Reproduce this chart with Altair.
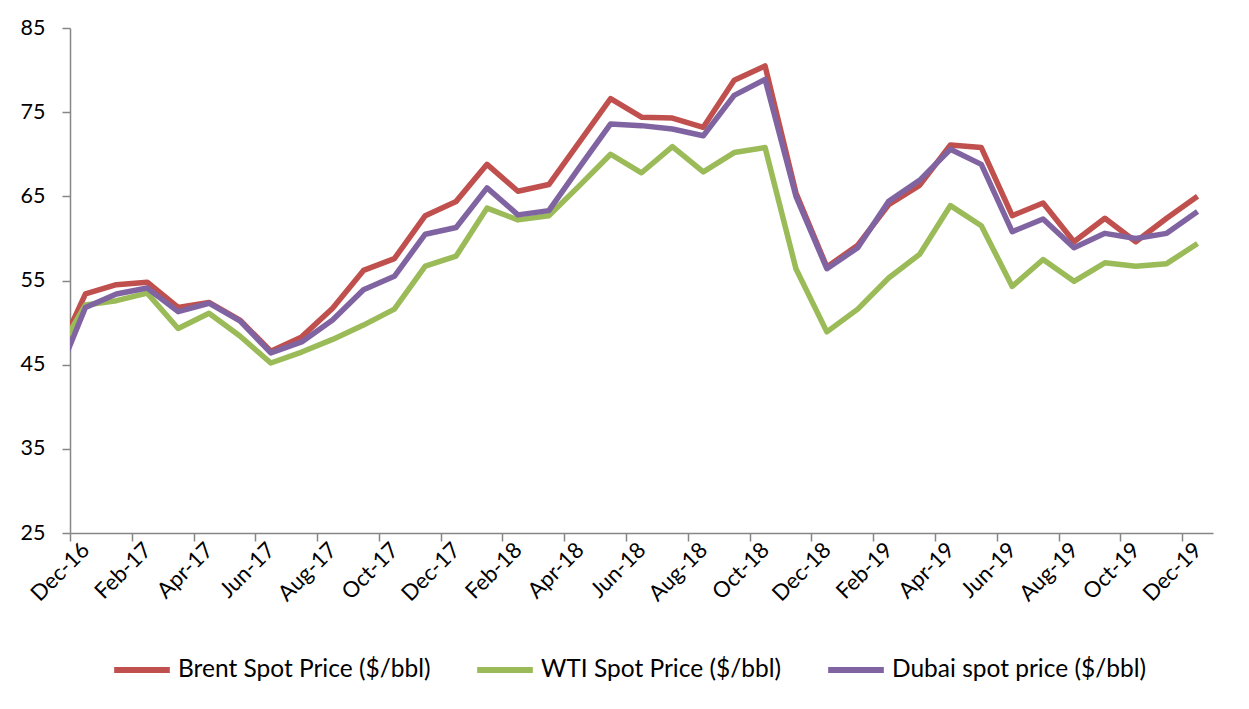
import altair as alt
import pandas as pd

# month index -1 = Nov-16 (partly visible at the left edge), 0 = Dec-16 ... 36 = Dec-19
month_labels = list(pd.date_range("2016-11-01", periods=38, freq="MS").strftime("%b-%y"))
month_idx = list(range(-1, 37))

series_names = ["Brent Spot Price ($/bbl)", "WTI Spot Price ($/bbl)", "Dubai spot price ($/bbl)"]
series_colors = ["#C0504D", "#9BBB59", "#8064A2"]

brent = [45.4, 53.4, 54.5, 54.8, 51.8, 52.4, 50.3, 46.6, 48.3, 51.7, 56.2, 57.6, 62.7,
         64.4, 68.8, 65.6, 66.4, 71.5, 76.6, 74.4, 74.3, 73.2, 78.8, 80.5, 65.4, 56.6,
         59.2, 64.0, 66.3, 71.1, 70.8, 62.7, 64.2, 59.6, 62.4, 59.6, 62.4, 65.0]
wti = [45.8, 52.1, 52.6, 53.5, 49.3, 51.1, 48.4, 45.2, 46.5, 48.0, 49.7, 51.6, 56.7,
       57.9, 63.6, 62.2, 62.7, 66.3, 70.0, 67.8, 70.9, 67.9, 70.2, 70.8, 56.4, 48.9,
       51.6, 55.3, 58.1, 63.9, 61.5, 54.3, 57.5, 54.9, 57.1, 56.7, 57.0, 59.4]
dubai = [42.8, 51.8, 53.4, 54.1, 51.3, 52.3, 50.2, 46.4, 47.7, 50.3, 53.9, 55.5, 60.5,
         61.3, 66.0, 62.8, 63.3, 68.5, 73.6, 73.4, 73.0, 72.2, 77.0, 78.9, 65.0, 56.4,
         58.9, 64.4, 66.9, 70.6, 68.8, 60.8, 62.3, 58.9, 60.6, 60.0, 60.6, 63.2]

y_ticks = [25, 35, 45, 55, 65, 75, 85]

rows = []
for name, vals in zip(series_names, [brent, wti, dubai]):
    for i, v in zip(month_idx, vals):
        rows.append({"idx": i, "series": name, "value": v})
df = pd.DataFrame(rows)

FONT = "Lato"
GRAY = "#868686"
FS = 21.5
LEG_FS = 24.5

label_list = month_labels[1:]  # index 0 -> Dec-16
label_expr = "[" + ",".join("'" + s + "'" for s in label_list) + "][datum.value]"

x_scale = alt.Scale(domain=[-0.5, 36.5], nice=False, zero=False)
y_scale = alt.Scale(domain=[25, 85], nice=False, zero=False)

axis_labels = alt.Axis(values=list(range(0, 37, 2)), labelExpr=label_expr, labelAngle=-45,
                       labelAlign="right", labelBaseline="middle", labelFontSize=22,
                       labelFont=FONT, labelColor="black", labelPadding=13, ticks=False,
                       domain=True, domainColor=GRAY, domainWidth=1.5, grid=False,
                       title=None, orient="bottom", labelOverlap=False)
axis_ticks = alt.Axis(values=[v - 0.5 for v in range(0, 37, 2)], labels=False, ticks=True,
                      tickSize=8, tickColor=GRAY, tickWidth=1.5, domain=False, grid=False,
                      title=None, orient="bottom")
y_axis = alt.Axis(values=y_ticks, grid=False, tickSize=8, tickColor=GRAY, tickWidth=1.5,
                  domainColor=GRAY, domainWidth=1.5, labelFontSize=FS, labelFont=FONT,
                  labelColor="black", labelPadding=17, title=None)

color = alt.Color("series:N",
                  scale=alt.Scale(domain=series_names, range=series_colors),
                  legend=alt.Legend(orient="none", legendX=41, legendY=611,
                                    direction="horizontal", title=None,
                                    symbolType="stroke", symbolStrokeWidth=6,
                                    symbolSize=3100, labelFontSize=LEG_FS, labelFont=FONT,
                                    labelColor="black", labelOffset=5, columnPadding=34,
                                    labelLimit=400))


def layer(name, xaxis):
    return alt.Chart(df).transform_filter(alt.datum.series == name).mark_line(
        strokeWidth=5.5, strokeJoin="round", clip=True
    ).encode(
        x=alt.X("idx:Q", scale=x_scale, axis=xaxis),
        y=alt.Y("value:Q", scale=y_scale, axis=y_axis),
        color=color,
    )


chart = alt.layer(
    layer(series_names[0], axis_labels),
    layer(series_names[1], axis_ticks),
    layer(series_names[2], None),
).resolve_axis(x="independent").properties(
    width=1143, height=505,
    autosize=alt.AutoSizeParams(type="none"),
    padding={"left": 62, "top": 20, "right": 20, "bottom": 168},
).configure(font=FONT).configure_view(stroke=None)

chart.save("out.html", embed_options={"renderer": "svg", "actions": False})
